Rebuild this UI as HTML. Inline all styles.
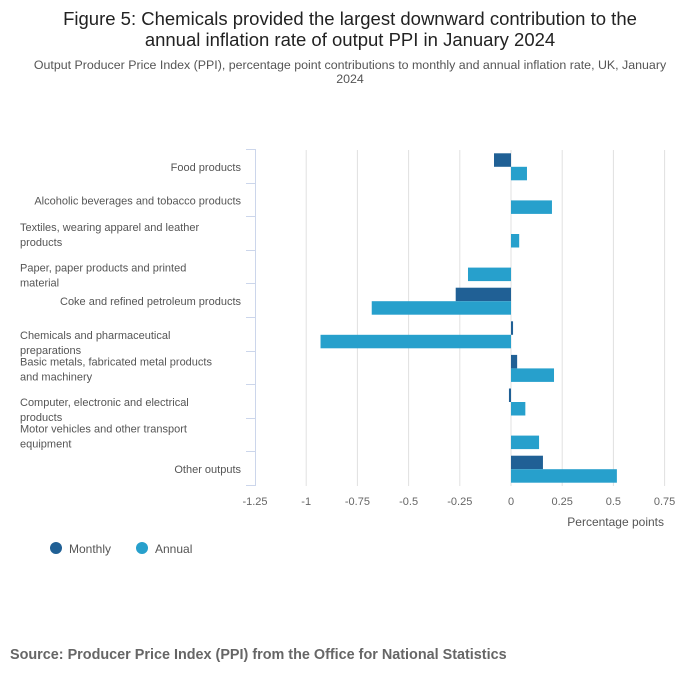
<!DOCTYPE html>
<html><head><meta charset="utf-8"><style>
body{margin:0;width:700px;height:682px;background:#fff;font-family:"Liberation Sans",sans-serif;overflow:hidden;position:relative}
.t{position:absolute;left:0;width:700px;text-align:center;color:#222}
</style></head><body>
<div class="t" style="top:8px;font-size:18.5px;line-height:21px">Figure 5: Chemicals provided the largest downward contribution to the<br>annual inflation rate of output PPI in January 2024</div>
<div class="t" style="top:58px;font-size:12.4px;line-height:14px;color:#555">Output Producer Price Index (PPI), percentage point contributions to monthly and annual inflation rate, UK, January<br>2024</div>
<svg id="c" width="700" height="682" style="position:absolute;left:0;top:0"></svg>
<div style="position:absolute;left:10px;top:647px;font-size:14.4px;font-weight:bold;color:#666">Source: Producer Price Index (PPI) from the Office for National Statistics</div>
<script>
const categories=[["Food products"],["Alcoholic beverages and tobacco products"],["Textiles, wearing apparel and leather","products"],["Paper, paper products and printed","material"],["Coke and refined petroleum products"],["Chemicals and pharmaceutical","preparations"],["Basic metals, fabricated metal products","and machinery"],["Computer, electronic and electrical","products"],["Motor vehicles and other transport","equipment"],["Other outputs"]];
const monthly=[-0.083,0,0,0,-0.27,0.01,0.03,-0.01,0,0.156];
const annual=[0.078,0.2,0.04,-0.21,-0.68,-0.93,0.21,0.07,0.137,0.517];
const ticks=[-1.25,-1,-0.75,-0.5,-0.25,0,0.25,0.5,0.75];
const tickLabels=["-1.25","-1","-0.75","-0.5","-0.25","0","0.25","0.5","0.75"];
const labelShift=[0,0,-7,0,0,0,-7,0,-7,0];
const svg=document.getElementById('c');const NS='http://www.w3.org/2000/svg';
const X=v=>511+v*204.8;const top0=150,rowH=33.6;
function mk(t,a,p){const e=document.createElementNS(NS,t);for(const k in a)e.setAttribute(k,a[k]);(p||svg).appendChild(e);return e;}
ticks.forEach((v,i)=>{
 if(i>0){const g=mk('line',{x1:X(v),x2:X(v),y1:150,y2:486,stroke:'#e0e0e0'});
 
 }
 const t=mk('text',{x:X(v),y:505,'font-size':11,fill:'#666','text-anchor':'middle'});t.textContent=tickLabels[i];
 
 
});
const ax=mk('line',{x1:255.5,x2:255.5,y1:149,y2:486,stroke:'#ccd6eb'});


for(let i=0;i<=10;i++){const y=Math.round(149+i*rowH)+0.5;const l=mk('line',{x1:246,x2:256,y1:y,y2:y,stroke:'#ccd6eb'});
 
 }
categories.forEach((c,i)=>{
 const yc=top0+i*rowH+rowH/2;
 const m=monthly[i],a=annual[i];
 if(m!==0){const r=mk('rect',{x:Math.min(X(0),X(m)),y:yc-13.5,width:Math.max(1,Math.abs(X(m)-X(0))),height:13.5,fill:'#206095'});
  
  }
 if(a!==0){const r=mk('rect',{x:Math.min(X(0),X(a)),y:yc,width:Math.abs(X(a)-X(0)),height:13.5,fill:'#27a0cc'});
  
  }
 const t=mk('text',{'font-size':11,fill:'#555'});
 
 
 if(c.length===1){t.setAttribute('x',241);t.setAttribute('y',yc+4);t.setAttribute('text-anchor','end');t.textContent=c[0];}
 else{c.forEach((s,j)=>{const ts=mk('tspan',{x:20,y:yc+4+labelShift[i]+j*15},t);ts.textContent=s;});}
});
const xt=mk('text',{x:664,y:526,'font-size':12,fill:'#555','text-anchor':'end'});xt.textContent='Percentage points';


[['Monthly','#206095',56],['Annual','#27a0cc',142]].forEach(([n,col,x])=>{
 const g=mk('g',{});
 
 
 mk('circle',{cx:x,cy:548,r:6,fill:col},g);
 const t=mk('text',{x:x+13,y:553,'font-size':12,fill:'#555'},g);t.textContent=n;
});
</script>
</body></html>
